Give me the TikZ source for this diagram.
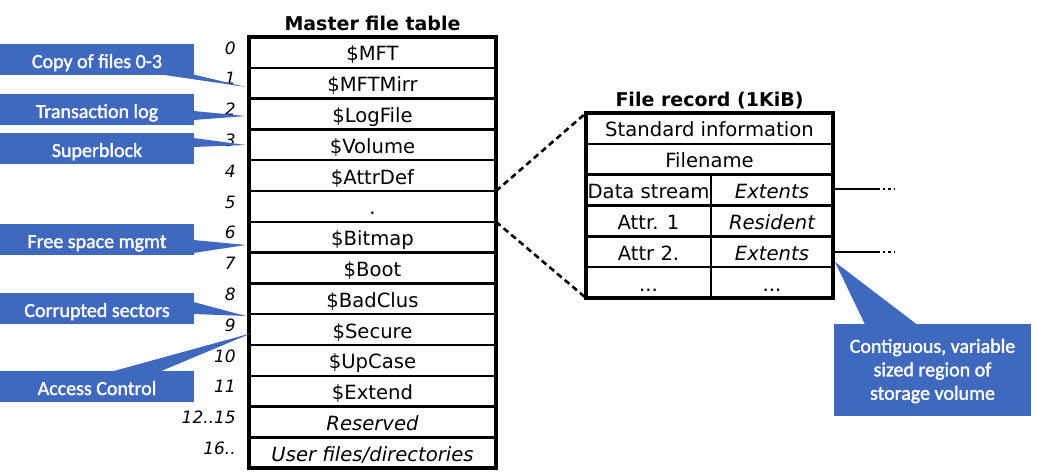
\documentclass[tikz,border=0pt]{standalone}
\usepackage{fontspec}
\setmainfont{DejaVu Sans}
\newfontfamily\calfont[FakeBold=1.6]{Carlito}
\definecolor{callblue}{HTML}{3F68BF}
\begin{document}
\begin{tikzpicture}[x=1pt,y=-1pt,
  cell/.style={draw, line width=2.4pt, minimum width=247pt, minimum height=30.8pt,
    inner sep=0pt, outer sep=0pt, font=\fontsize{19.6}{23}\selectfont,
    text height=17pt, text depth=0pt},
  lcell/.style={cell, minimum width=125pt},
  rcell/.style={cell, minimum width=122pt},
  ttl/.style={font=\fontsize{19}{23}\selectfont\bfseries, inner sep=0pt},
  num/.style={font=\fontsize{17}{20}\selectfont\itshape, inner sep=0pt, anchor=east},
  callbox/.style={fill=callblue, text=white,
    font=\calfont\fontsize{20}{23.5}\selectfont, inner sep=0pt, outer sep=0pt,
    minimum height=31pt, minimum width=194pt, text height=17pt, text depth=0pt},
  wedge/.style={fill=callblue},
  zoomline/.style={line width=2.6pt, dash pattern=on 6pt off 4pt},
  extline/.style={line width=2.4pt},
  extdots/.style={line width=2.5pt, dash pattern=on 2.5pt off 3pt}
]
\useasboundingbox (0,0) rectangle (1039,476);

% ---- Master file table ----
\node[ttl] (mtitle) at (372.5,23) {Master file table};
\node[cell] (m0)  at (372.5,52.4)  {\$MFT};
\node[cell] (m1)  at (372.5,83.2)  {\$MFTMirr};
\node[cell] (m2)  at (372.5,114.0) {\$LogFile};
\node[cell] (m3)  at (372.5,144.8) {\$Volume};
\node[cell] (m4)  at (372.5,175.6) {\$AttrDef};
\node[cell] (m5)  at (372.5,206.4) {.};
\node[cell] (m6)  at (372.5,237.1) {\$Bitmap};
\node[cell] (m7)  at (372.5,267.9) {\$Boot};
\node[cell] (m8)  at (372.5,298.7) {\$BadClus};
\node[cell] (m9)  at (372.5,329.5) {\$Secure};
\node[cell] (m10) at (372.5,360.3) {\$UpCase};
\node[cell] (m11) at (372.5,391.1) {\$Extend};
\node[cell] (m12) at (372.5,421.9) {\itshape Reserved};
\node[cell] (m13) at (372.5,452.7) {\itshape User files/directories};
\draw[line width=3.4pt] (m0.north west) rectangle (m13.south east);

\node[num] (n0)  at (236,48.0)  {0};
\node[num] (n1)  at (236,78.8)  {1};
\node[num] (n2)  at (236,109.6) {2};
\node[num] (n3)  at (236,140.4) {3};
\node[num] (n4)  at (236,171.2) {4};
\node[num] (n5)  at (236,202.0) {5};
\node[num] (n6)  at (236,232.7) {6};
\node[num] (n7)  at (236,263.5) {7};
\node[num] (n8)  at (236,294.3) {8};
\node[num] (n9)  at (236,325.1) {9};
\node[num] (n10) at (236,355.9) {10};
\node[num] (n11) at (236,386.7) {11};
\node[num] (n12) at (236,417.5) {12..15};
\node[num] (n13) at (236,448.3) {16..};

% ---- File record ----
\node[ttl] (rtitle) at (709.5,101) {File record (1KiB)};
\node[cell] (r0) at (709.5,128.4) {Standard information};
\node[cell] (r1) at (709.5,159.2) {Filename};
\node[lcell] (r2a) at (648.5,190.1) {Data stream};
\node[rcell] (r2b) at (772,190.1) {\itshape Extents};
\node[lcell] (r3a) at (648.5,220.9) {Attr. 1};
\node[rcell] (r3b) at (772,220.9) {\itshape Resident};
\node[lcell] (r4a) at (648.5,251.7) {Attr 2.};
\node[rcell] (r4b) at (772,251.7) {\itshape Extents};
\node[lcell] (r5a) at (648.5,282.6) {...};
\node[rcell] (r5b) at (772,282.6) {...};
\draw[line width=3.4pt] (r0.north west) rectangle (r5b.south east);

% zoom lines
\draw[zoomline] (m5.north east) -- (r0.north west);
\draw[zoomline] (m5.south east) -- (r5a.south west);

% extents continuation
\coordinate (e1) at (877,189);
\coordinate (e1d) at (894,189);
\coordinate (e2) at (877,252);
\coordinate (e2d) at (894,252);
\draw[extline] (r2b.east |- e1) -- (e1);
\draw[extdots] (e1) -- (e1d);
\draw[extline] (r4b.east |- e2) -- (e2);
\draw[extdots] (e2) -- (e2d);

% ---- Callouts ----
\coordinate (t1) at (246,87);
\coordinate (t2) at (246,116);
\coordinate (t3) at (246,145);
\coordinate (t4) at (246,245);
\coordinate (t5) at (246,316);
\coordinate (t6) at (252,333);
\coordinate (t7) at (835,262);

\fill[wedge] (161,74.5) -- (193.5,74.5) -- (t1) -- cycle;
\fill[wedge] (193.5,111) -- (193.5,120) -- (t2) -- cycle;
\fill[wedge] (193.5,138) -- (193.5,147) -- (t3) -- cycle;
\fill[wedge] (193.5,240) -- (193.5,253) -- (t4) -- cycle;
\fill[wedge] (193.5,302) -- (193.5,314) -- (t5) -- cycle;
\fill[wedge] (112,371.5) -- (160,371.5) -- (t6) -- cycle;
\fill[wedge] (865,324.5) -- (917,324.5) -- (t7) -- cycle;

\node[callbox] (c1) at (97,59.5)  {Copy of files 0-3};
\node[callbox] (c2) at (97,109.5) {Transaction log};
\node[callbox] (c3) at (97,148.5) {Superblock};
\node[callbox] (c4) at (97,239.5) {Free space mgmt};
\node[callbox] (c5) at (97,308.5) {Corrupted sectors};
\node[callbox] (c6) at (97,386.5) {Access Control};
\node[callbox, minimum width=197pt, minimum height=92pt, align=center,
  text height=, text depth=] (c7) at (932.5,370)
  {\rule{0pt}{16pt}Contiguous, variable\\sized region of\\storage volume};
\end{tikzpicture}
\end{document}
